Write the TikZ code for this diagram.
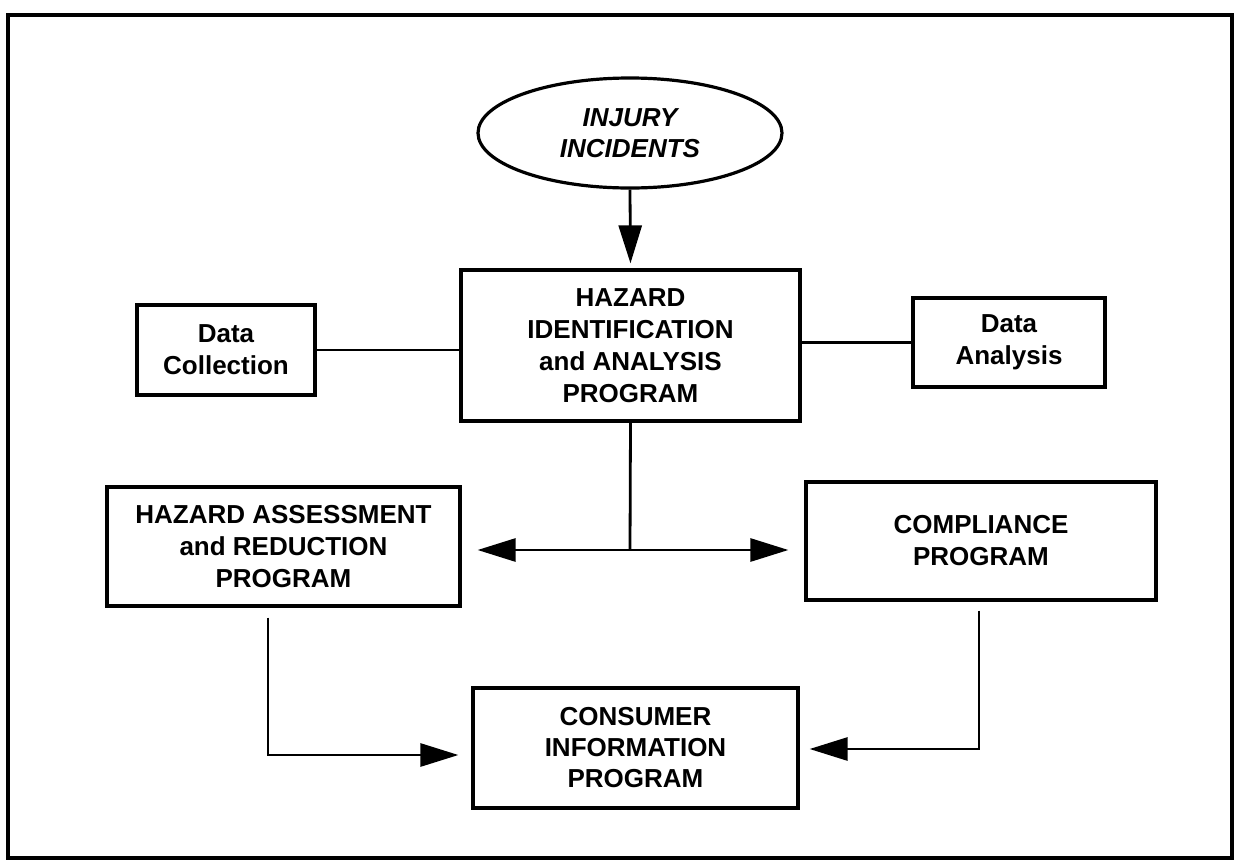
\documentclass[tikz,border=0pt]{standalone}
\usepackage{fontspec}
\setmainfont{Liberation Sans}
\usetikzlibrary{arrows.meta,shapes.geometric}
\tikzset{
  box/.style={draw, line width=3.2pt, rectangle, inner sep=0pt, align=center,
    font=\fontsize{26}{32}\selectfont\bfseries},
  conn/.style={line width=2.8pt},
  arr/.style={conn, -{Triangle[length=38pt,width=23pt]}},
}
\begin{document}
\begin{tikzpicture}[x=1pt,y=-1pt]
\useasboundingbox (0,0) rectangle (1235,860);
% frame
\draw[line width=3.4pt] (8,15) rectangle (1232,858);
% nodes
\node[box, ellipse, minimum width=304pt, minimum height=110pt,
  font=\fontsize{26}{31}\selectfont\bfseries\itshape] (inj) at (630,133) {INJURY\\INCIDENTS};
\node[box, minimum width=339pt, minimum height=151pt] (main) at (630.5,345.5)
  {HAZARD\\IDENTIFICATION\\and ANALYSIS\\PROGRAM};
\node[box, minimum width=178pt, minimum height=90pt] (dc) at (226,350) {Data\\Collection};
\node[box, minimum width=192pt, minimum height=89pt] (da) at (1009,342.5) {Data\\Analysis};
\node[box, minimum width=353pt, minimum height=119pt] (hra) at (283.5,546.5)
  {HAZARD ASSESSMENT\\and REDUCTION\\PROGRAM};
\node[box, minimum width=350pt, minimum height=118pt] (comp) at (981,541)
  {COMPLIANCE\\PROGRAM};
\node[box, minimum width=325pt, minimum height=120pt,
  font=\fontsize{26}{31}\selectfont\bfseries] (cons) at (635.5,748)
  {CONSUMER\\INFORMATION\\PROGRAM};
% coordinates
\coordinate (split) at (630,550);
\coordinate (e1) at (268,755);
\coordinate (e2) at (979,749);
% connectors
\draw[arr, shorten >=5pt] (inj.south) -- (main.north);
\draw[conn] (dc.east) -- (dc.east -| main.west);
\draw[conn] (da.west -| main.east) -- (da.west);
\draw[conn] (main.south) -- (split);
\draw[arr, shorten >=16pt] (split) -- (split -| hra.east);
\draw[arr, shorten >=16pt] (split) -- (split -| comp.west);
\draw[arr, shorten <=10pt, shorten >=13pt] (hra.south -| e1) -- (e1) -- (e1 -| cons.west);
\draw[arr, shorten <=9pt, shorten >=10pt] (comp.south -| e2) -- (e2) -- (e2 -| cons.east);
\end{tikzpicture}
\end{document}
